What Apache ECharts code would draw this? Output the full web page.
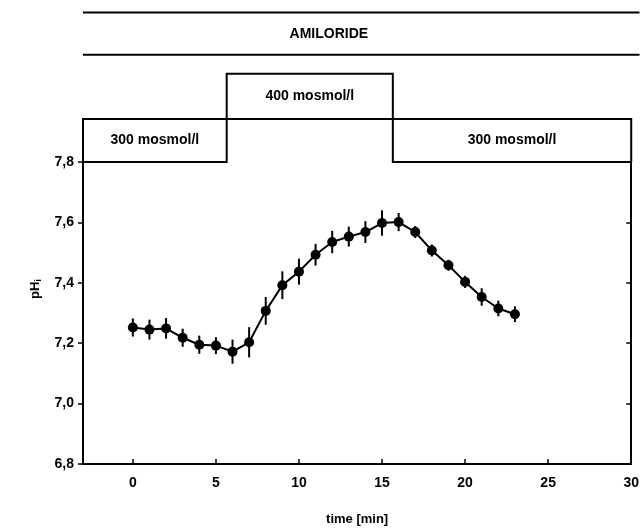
<!DOCTYPE html>
<html>
<head>
<meta charset="utf-8">
<script src="https://cdn.jsdelivr.net/npm/echarts@6/dist/echarts.min.js"></script>
<style>html,body{margin:0;padding:0;background:#fff}#c{width:642px;height:531px}</style>
</head>
<body>
<div id="c"></div>
<script>
// ---- data ----
var times = [0,1,2,3,4,5,6,7,8,9,10,11,12,13,14,15,16,17,18,19,20,21,22,23];
var phValues = [7.252,7.245,7.249,7.218,7.195,7.192,7.172,7.203,7.307,7.392,7.437,7.493,7.535,7.553,7.568,7.598,7.601,7.568,7.507,7.458,7.403,7.353,7.315,7.296];
var phErrors = [0.030,0.033,0.034,0.030,0.030,0.028,0.040,0.050,0.046,0.046,0.043,0.036,0.037,0.033,0.036,0.042,0.030,0.020,0.020,0.018,0.020,0.029,0.026,0.026];
var xTicks = [0,5,10,15,20,25,30];
var yTicks = [6.8,7.0,7.2,7.4,7.6,7.8];
var stepTimes = [-3, 5.65, 15.65, 30];
var osmolLabels = ['300 mosmol/l','400 mosmol/l','300 mosmol/l'];
var drugLabel = 'AMILORIDE';

// ---- chart ----
var FONT = '"Liberation Sans", Arial, sans-serif';
var chart = echarts.init(document.getElementById('c'), null, {renderer:'canvas'});

var lineData = times.map(function(t,i){return [t, phValues[i]];});
var errData = times.map(function(t,i){return [t, phValues[i], phErrors[i]];});

// annotation levels (layout, in pH units above the plot top)
var L0 = 7.8, L1 = 7.942, L2 = 8.092, A1 = 8.155, A2 = 8.295, AEND = 30.5, ATEXT = 11.8;

function annotRender(params, api){
  var c = function(x,y){return api.coord([x,y]);};
  var st = {stroke:'#000', lineWidth:2, fill:null};
  var kids = [];
  function seg(p){ kids.push({type:'polyline', shape:{points:p.map(function(q){return c(q[0],q[1]);})}, style:st, silent:true}); }
  var a=stepTimes[0], b=stepTimes[1], d=stepTimes[2], e=stepTimes[3];
  seg([[a,L0],[a,L1],[e,L1],[e,L0]]);
  seg([[a,L0],[b,L0],[b,L2],[d,L2],[d,L0],[e,L0]]);
  seg([[a,A1],[AEND,A1]]);
  seg([[a,A2],[AEND,A2]]);
  var tf = {fill:'#000', font:'bold 14px '+FONT, align:'center', verticalAlign:'middle'};
  function txt(s,x,y){ var p=c(x,y); kids.push({type:'text', x:p[0], y:p[1], style:Object.assign({text:s}, tf), silent:true}); }
  txt(osmolLabels[0], (a+b)/2, (L0+L1)/2);
  txt(osmolLabels[1], (b+d)/2, (L1+L2)/2);
  txt(osmolLabels[2], (d+e)/2, (L0+L1)/2);
  txt(drugLabel, ATEXT, (A1+A2)/2);
  return {type:'group', children:kids};
}

function errRender(params, api){
  var x = api.value(0), y = api.value(1), e = api.value(2);
  var p1 = api.coord([x, y-e]), p2 = api.coord([x, y+e]);
  return {type:'line', shape:{x1:p1[0],y1:p1[1],x2:p2[0],y2:p2[1]}, style:{stroke:'#000', lineWidth:2}};
}

var labelStyle = {color:'#000', fontFamily:FONT, fontWeight:'bold', fontSize:14};

chart.setOption({
  animation:false,
  backgroundColor:'#fff',
  grid:{left:83, right:7, top:162, bottom:65},
  xAxis:{
    type:'value', min:-3, max:30,
    axisLine:{show:true, onZero:false, lineStyle:{color:'#000', width:2}},
    axisTick:{show:true, inside:true, length:5, lineStyle:{color:'#000', width:1.5}, customValues:xTicks},
    axisLabel:Object.assign({margin:12, customValues:xTicks, formatter:function(v){return String(v);}}, labelStyle),
    splitLine:{show:false},
    name:'time [min]', nameLocation:'middle', nameGap:49,
    nameTextStyle:{color:'#000', fontFamily:FONT, fontWeight:'bold', fontSize:13}
  },
  yAxis:[{
    type:'value', min:6.8, max:7.8, interval:0.2, position:'left',
    axisLine:{show:true, onZero:false, lineStyle:{color:'#000', width:2}},
    axisTick:{show:true, inside:false, length:5, lineStyle:{color:'#000', width:1.5}},
    axisLabel:Object.assign({margin:9, formatter:function(v){return v.toFixed(1).replace('.', ',');}}, labelStyle),
    splitLine:{show:false},
    name:'pH{s|i}', nameLocation:'middle', nameGap:40, nameRotate:90,
    nameTextStyle:{color:'#000', fontFamily:FONT, fontWeight:'bold', fontSize:13, padding:[0,0,0,48],
      rich:{s:{fontFamily:FONT, fontWeight:'bold', fontSize:9, verticalAlign:'bottom', padding:[6,0,0,0]}}}
  },{
    type:'value', min:6.8, max:7.8, interval:0.2, position:'right',
    axisLine:{show:true, onZero:false, lineStyle:{color:'#000', width:2}},
    axisTick:{show:true, inside:true, length:5, lineStyle:{color:'#000', width:1.5}},
    axisLabel:{show:false}, splitLine:{show:false}
  }],
  series:[{
    type:'custom', renderItem:annotRender, data:[[0,7.5]], clip:false, silent:true, z:1
  },{
    type:'custom', renderItem:errRender, data:errData, clip:false, silent:true, z:2
  },{
    type:'line', data:lineData, symbol:'circle', symbolSize:10,
    lineStyle:{color:'#000', width:2}, itemStyle:{color:'#000'}, z:3
  }]
});
</script>
</body>
</html>
